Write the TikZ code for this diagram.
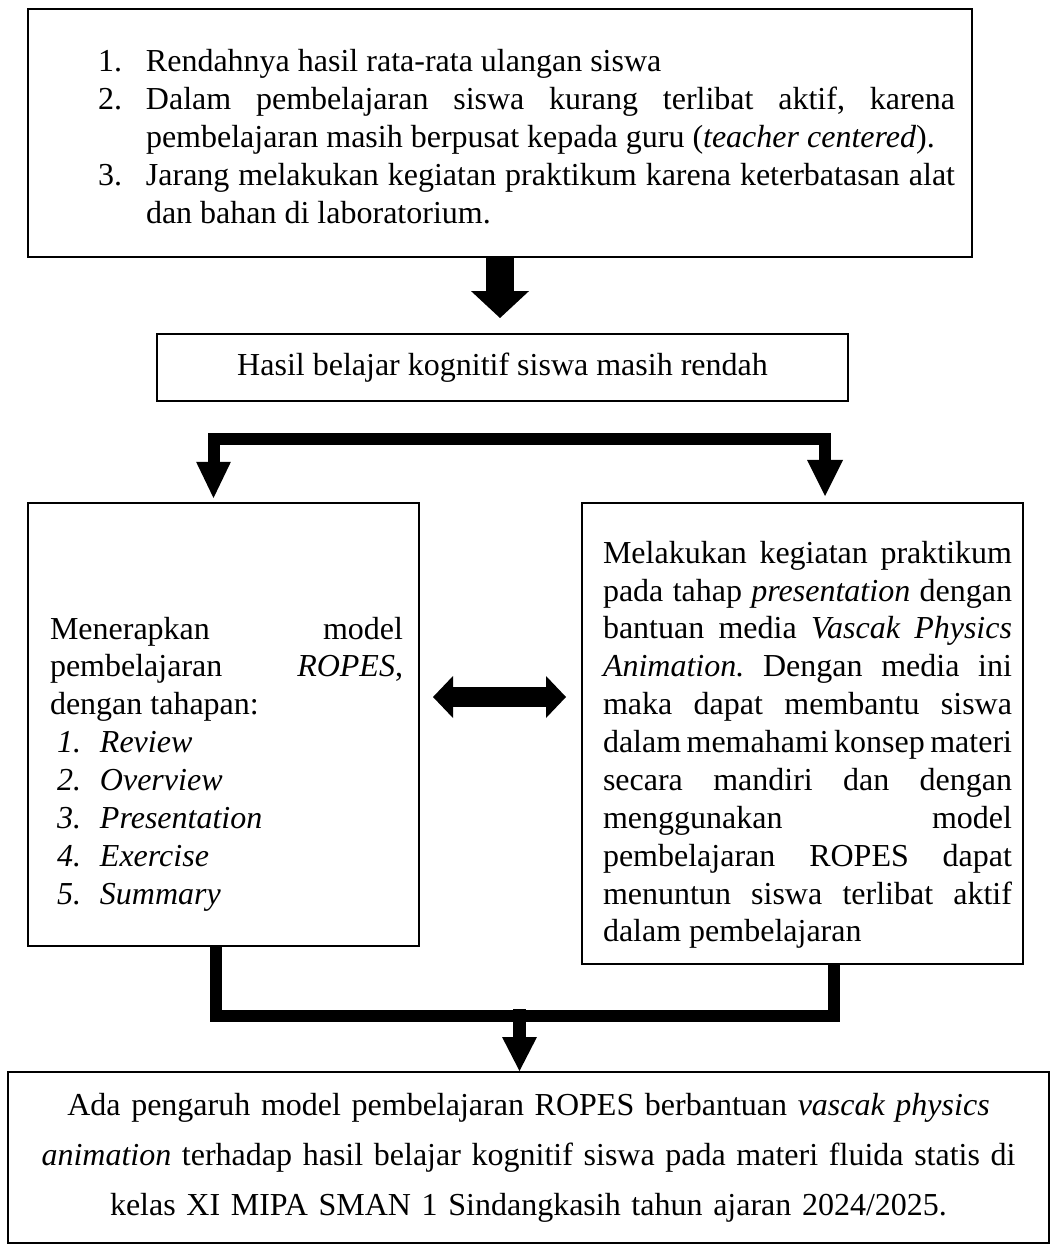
\documentclass[tikz,border=0pt]{standalone}
\usepackage{fontspec}
\setmainfont{Liberation Serif}
\usetikzlibrary{arrows.meta}

\newdimen\pxu \pxu=0.375pt
\newcommand{\hangitem}[1]{\hangindent=48\pxu \hangafter=1 \makebox[48\pxu][l]{#1}}
\newcommand{\stepno}[1]{\hspace*{7\pxu}\makebox[43\pxu][l]{#1}}
\hyphenpenalty=10000
\exhyphenpenalty=10000

\begin{document}
\begin{tikzpicture}[x=\pxu, y=-\pxu]
    \tikzstyle{every node} = [draw, line width=0.75pt, inner sep=0pt, font=\fontsize{12pt}{14.2pt}\selectfont\frenchspacing]
    \tikzstyle{bigarrow} = [line width=10.5pt, -{Triangle[length=10.1pt 0 0, width=21.75pt 0 0, line width=0pt 0 0]}]
    \tikzstyle{fork} = [line width=4.5pt, line join=miter, {Triangle[length=13.5pt 0 0, width=13pt 0 0, line width=0pt 0 0]}-{Triangle[length=13.5pt 0 0, width=13.5pt 0 0, line width=0pt 0 0]}]
    \tikzstyle{twoway} = [line width=7.5pt, {Triangle[length=7.5pt 0 0, width=15.75pt 0 0, line width=0pt 0 0]}-{Triangle[length=7.5pt 0 0, width=15.75pt 0 0, line width=0pt 0 0]}]
    \tikzstyle{merge} = [line width=4.5pt, line join=miter]
    \tikzstyle{downarrow} = [line width=4.9pt, -{Triangle[length=12.75pt 0 0, width=13.1pt 0 0, line width=0pt 0 0]}]
    \useasboundingbox (0,0) rectangle (1051,1246);

    \node (masalah) [minimum width=944\pxu, minimum height=248\pxu, text width=944\pxu, align=justify] at (500,133) {%
      \leftskip=70\pxu \rightskip=17\pxu
      \rule{0pt}{29\pxu}\hangitem{1.}Rendahnya hasil rata-rata ulangan siswa\par
      \hangitem{2.}Dalam pembelajaran siswa kurang terlibat aktif, karena\linebreak pembelajaran masih berpusat kepada guru (\textit{teacher centered}).\par
      \hangitem{3.}Jarang melakukan kegiatan praktikum karena keterbatasan alat\linebreak dan bahan di laboratorium.\par};
    \node (hasil) [minimum width=691\pxu, minimum height=67\pxu] at (502.5,367.5) {Hasil belajar kognitif siswa masih rendah};
    \node (model) [minimum width=391\pxu, minimum height=443\pxu, text width=391\pxu, align=justify] at (223.5,724.5) {%
      \leftskip=22\pxu \rightskip=16\pxu
      \rule{0pt}{101\pxu}Menerapkan model\linebreak pembelajaran \textit{ROPES},\linebreak dengan tahapan:\par
      \stepno{\textit{1.}}\textit{Review}\par
      \stepno{\textit{2.}}\textit{Overview}\par
      \stepno{\textit{3.}}\textit{Presentation}\par
      \stepno{\textit{4.}}\textit{Exercise}\par
      \stepno{\textit{5.}}\textit{Summary}\par};
    \node (media) [minimum width=441\pxu, minimum height=461\pxu, text width=441\pxu, align=justify] at (802.5,733.5) {%
      \leftskip=21\pxu \rightskip=11\pxu
      \rule{0pt}{45\pxu}Melakukan kegiatan praktikum\linebreak pada tahap \textit{presentation} dengan\linebreak bantuan media \textit{Vascak Physics}\linebreak \textit{Animation.} Dengan media ini\linebreak maka dapat membantu siswa\linebreak dalam memahami konsep materi\linebreak secara mandiri dan dengan\linebreak menggunakan model\linebreak pembelajaran ROPES dapat\linebreak menuntun siswa terlibat aktif\linebreak dalam pembelajaran\par};
    \node (pengaruh) [minimum width=1041\pxu, minimum height=171\pxu, text width=1041\pxu, align=center, font=\fontsize{12pt}{18.75pt}\selectfont\frenchspacing] at (528.5,1157.5) {%
      Ada pengaruh model pembelajaran ROPES berbantuan \textit{vascak physics}\\
      \textit{animation} terhadap hasil belajar kognitif siswa pada materi fluida statis di\\
      kelas XI MIPA SMAN 1 Sindangkasih tahun ajaran 2024/2025.};

    \coordinate (fL) at (213.5,439);
    \coordinate (fR) at (825,439);
    \coordinate (mid) at (500,697);
    \coordinate (mL) at (215.5,1016);
    \coordinate (mR) at (834,1016);
    \coordinate (mC) at (519.5,1009);

      \draw [bigarrow, shorten >=15\pxu] (masalah.south) -- (masalah.south |- hasil.north);
      \draw [fork, shorten <=4\pxu, shorten >=6\pxu] (fL |- model.north) -- (fL) -- (fR) -- (fR |- media.north);
      \draw [twoway, shorten <=13\pxu, shorten >=15\pxu] (model.east |- mid) -- (media.west |- mid);
      \draw [merge] (mL |- model.south) -- (mL) -- (mR) -- (mR |- media.south);
      \draw [downarrow] (mC) -- (mC |- pengaruh.north);
\end{tikzpicture}
\end{document}
